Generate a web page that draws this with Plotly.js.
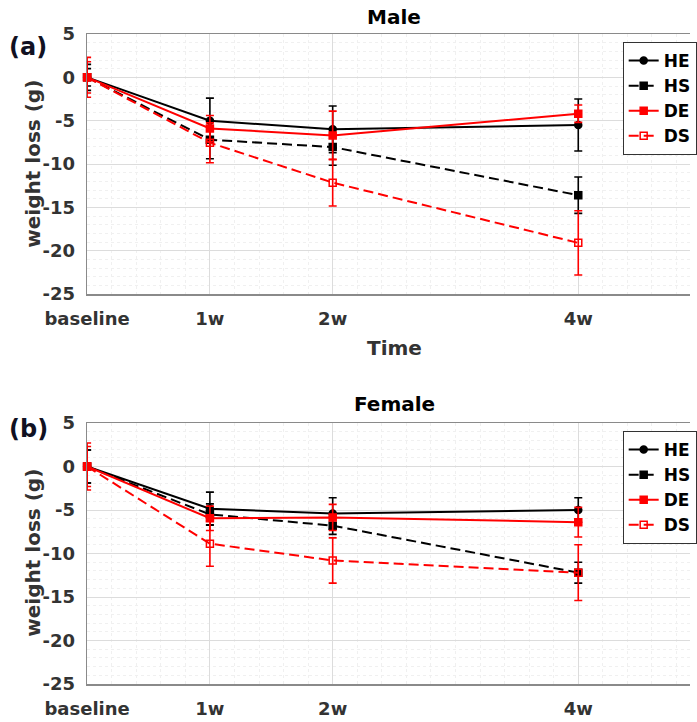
<!DOCTYPE html>
<html>
<head>
<meta charset="utf-8">
<script src="https://cdn.plot.ly/plotly-3.0.1.min.js"></script>
<style>
html,body{margin:0;padding:0;background:#fff;overflow:hidden;}
#chart{width:697px;height:722px;}
</style>
</head>
<body>
<div id="chart"></div>
<script>
// x positions (baseline=0, weeks)
const timePoints = [0, 1, 2, 4];
const timeLabels = ['baseline', '1w', '2w', '4w'];
const yTickVals = [5, 0, -5, -10, -15, -20, -25];
const yTickText = ['5', '0', '-5', '-10', '-15', '-20', '-25'];
const seriesNames = ['HE', 'HS', 'DE', 'DS'];

// Male (a)
const maleHE = [0, -5.0, -6.0, -5.5];
const maleHEerr = [1.0, 2.6, 2.7, 3.0];
const maleHS = [0, -7.2, -8.05, -13.6];
const maleHSerr = [1.5, 2.2, 2.1, 2.1];
const maleDE = [0, -5.9, -6.7, -4.2];
const maleDEerr = [1.8, 1.5, 2.8, 1.0];
const maleDS = [0, -7.55, -12.15, -19.1];
const maleDSerr = [2.3, 2.3, 2.7, 3.7];

// Female (b)
const femaleHE = [0, -4.85, -5.4, -5.0];
const femaleHEerr = [1.9, 1.9, 1.8, 1.4];
const femaleHS = [0, -5.5, -6.8, -12.2];
const femaleHSerr = [1.9, 1.2, 1.0, 1.2];
const femaleDE = [0, -5.95, -5.85, -6.4];
const femaleDEerr = [2.3, 1.4, 1.5, 1.7];
const femaleDS = [0, -8.87, -10.8, -12.2];
const femaleDSerr = [2.7, 2.6, 2.6, 3.2];

const styles = {
  HE: {color: '#000000', dash: 'solid', symbol: 'circle'},
  HS: {color: '#000000', dash: '10px,5px', symbol: 'square'},
  DE: {color: '#ff0000', dash: 'solid', symbol: 'square'},
  DS: {color: '#ff0000', dash: '10px,5px', symbol: 'square-open'}
};

function mk(name, y, err, xa, ya, leg) {
  const s = styles[name];
  return {
    type: 'scatter', mode: 'lines+markers', name: name,
    x: timePoints, y: y, xaxis: xa, yaxis: ya, legend: leg,
    line: {color: s.color, width: 2, dash: s.dash},
    marker: {color: s.color, size: 7, symbol: s.symbol, line: {color: s.color, width: 1.5}},
    error_y: {type: 'data', array: err, visible: true, color: s.color, thickness: 1.6, width: 4},
    cliponaxis: false
  };
}

const traces = [
  mk('HE', maleHE, maleHEerr, 'x', 'y', 'legend'),
  mk('HS', maleHS, maleHSerr, 'x', 'y', 'legend'),
  mk('DE', maleDE, maleDEerr, 'x', 'y', 'legend'),
  mk('DS', maleDS, maleDSerr, 'x', 'y', 'legend'),
  mk('HE', femaleHE, femaleHEerr, 'x2', 'y2', 'legend2'),
  mk('HS', femaleHS, femaleHSerr, 'x2', 'y2', 'legend2'),
  mk('DE', femaleDE, femaleDEerr, 'x2', 'y2', 'legend2'),
  mk('DS', femaleDS, femaleDSerr, 'x2', 'y2', 'legend2')
];

const W = 697, H = 722;
const FONT = 'DejaVu Sans';
const tickFont = {family: FONT, size: 18, color: '#333333', weight: 'bold'};

function xax(anchor) {
  return {
    domain: [88 / W, 1], range: [0, 4.91], anchor: anchor,
    tickmode: 'array', tickvals: timePoints, ticktext: timeLabels,
    tickfont: tickFont, ticks: '', ticklabelstandoff: 8,
    showgrid: true, gridcolor: '#dcdcdc', gridwidth: 1,
    minor: {dtick: 0.2, tick0: 0, showgrid: true, gridcolor: '#f0f0f0', griddash: 'dot', gridwidth: 1},
    showline: true, linecolor: '#8a8a8a', linewidth: 1.5, mirror: true,
    zeroline: false, fixedrange: true
  };
}
function yax(anchor, top, bottom) {
  return {
    domain: [1 - bottom / H, 1 - top / H], range: [-25, 5], anchor: anchor,
    tickmode: 'array', tickvals: yTickVals, ticktext: yTickText,
    tickfont: tickFont, ticks: '', ticklabelstandoff: 7,
    showgrid: true, gridcolor: '#dcdcdc', gridwidth: 1,
    minor: {dtick: 1, tick0: 0, showgrid: true, gridcolor: '#f0f0f0', griddash: 'dot', gridwidth: 1},
    showline: true, linecolor: '#8a8a8a', linewidth: 1.5, mirror: false,
    zeroline: false, fixedrange: true
  };
}

const legFont = {family: FONT, size: 17, color: '#000000', weight: 'bold'};
function leg(top) {
  return {
    x: 629 / W, y: 1 - top / H, xanchor: 'left', yanchor: 'top',
    bgcolor: '#ffffff', bordercolor: '#333333', borderwidth: 1,
    font: legFont, tracegroupgap: 0, itemwidth: 30
  };
}

const ann = (text, x, xref, ypx, size, color, angle) => ({
  text: text, x: x, xref: xref, y: 1 - ypx / H, yref: 'paper',
  showarrow: false, xanchor: 'center', yanchor: 'middle', textangle: angle || 0,
  font: {family: FONT, size: size, color: color || '#000000', weight: 'bold'}
});

const layout = {
  width: W, height: H,
  margin: {l: 0, r: 0, t: 0, b: 0},
  paper_bgcolor: '#ffffff', plot_bgcolor: '#ffffff',
  showlegend: true,
  xaxis: xax('y'), yaxis: yax('x', 34, 294),
  xaxis2: xax('y2'), yaxis2: yax('x2', 423, 684),
  legend: leg(42), legend2: leg(431),
  annotations: [
    ann('Male', 2.5, 'x', 17, 20),
    ann('Time', 2.5, 'x', 348, 20, '#333333'),
    ann('Female', 2.5, 'x2', 404, 20),
    ann('weight loss (g)', 33 / W, 'paper', 164, 20, '#333333', -90),
    ann('weight loss (g)', 33 / W, 'paper', 553, 20, '#333333', -90),
    ann('(a)', 28 / W, 'paper', 47, 24, '#111122'),
    ann('(b)', 29 / W, 'paper', 429, 24, '#111122')
  ]
};

Plotly.newPlot('chart', traces, layout, {staticPlot: true, displayModeBar: false});
</script>
</body>
</html>
